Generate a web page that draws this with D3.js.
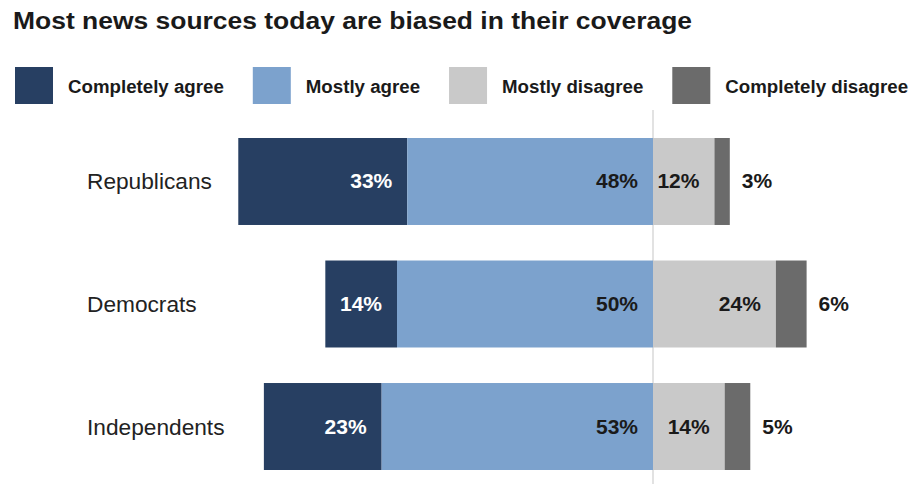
<!DOCTYPE html>
<html>
<head>
<meta charset="utf-8">
<script src="https://cdn.jsdelivr.net/npm/d3@7"></script>
<style>
  html, body { margin: 0; padding: 0; background: #ffffff; }
  svg { display: block; font-family: "Liberation Sans", Arial, Helvetica, sans-serif; }
</style>
</head>
<body>
<svg id="chart" width="920" height="484"></svg>
<script>
const title = "Most news sources today are biased in their coverage";
const categories = ["Republicans", "Democrats", "Independents"];
const seriesNames = ["Completely agree", "Mostly agree", "Mostly disagree", "Completely disagree"];
const completelyAgree = [33, 14, 23];
const mostlyAgree = [48, 50, 53];
const mostlyDisagree = [12, 24, 14];
const completelyDisagree = [3, 6, 5];
const colors = ["#273f62", "#7ca2cd", "#c9c9c9", "#6b6b6b"];
const labelColors = ["#ffffff", "#1a1a1a", "#1a1a1a", "#1a1a1a"];

const svg = d3.select("#chart");
const W = 920, H = 484;

// Title
svg.append("text")
  .attr("x", 13).attr("y", 29)
  .attr("font-size", 23).attr("font-weight", "bold").attr("fill", "#1a1a1a")
  .attr("textLength", 679).attr("lengthAdjust", "spacingAndGlyphs")
  .text(title);

// Legend
let lx = 15;
seriesNames.forEach((name, i) => {
  const g = svg.append("g");
  g.append("rect").attr("x", lx).attr("y", 67).attr("width", 38).attr("height", 37).attr("fill", colors[i]);
  const t = g.append("text").attr("x", lx + 53).attr("y", 93)
    .attr("font-size", 18.7).attr("font-weight", "bold").attr("fill", "#1a1a1a")
    .text(name);
  const w = t.node().getComputedTextLength();
  lx = lx + 53 + w + 29;
});

// Scales
const x = d3.scaleLinear().domain([-100, 100]).range([653 - 512, 653 + 512]);
const y = d3.scaleBand().domain(categories).range([138, 470]).paddingInner(0.29).paddingOuter(0);

// Center line
svg.append("line")
  .attr("x1", x(0)).attr("x2", x(0)).attr("y1", 110).attr("y2", H)
  .attr("stroke", "#d9d9d9").attr("stroke-width", 1.5);

// Build segments
const segs = [];
categories.forEach((c, i) => {
  const a1 = completelyAgree[i], a2 = mostlyAgree[i], d1 = mostlyDisagree[i], d2 = completelyDisagree[i];
  segs.push({cat: c, s: 0, x0: -(a1 + a2), x1: -a2, v: a1});
  segs.push({cat: c, s: 1, x0: -a2, x1: 0, v: a2});
  segs.push({cat: c, s: 2, x0: 0, x1: d1, v: d1});
  segs.push({cat: c, s: 3, x0: d1, x1: d1 + d2, v: d2});
});

svg.append("g").selectAll("rect").data(segs).join("rect")
  .attr("x", d => x(d.x0))
  .attr("y", d => y(d.cat))
  .attr("width", d => x(d.x1) - x(d.x0))
  .attr("height", y.bandwidth())
  .attr("fill", d => colors[d.s]);

// Value labels
svg.append("g").selectAll("text").data(segs).join("text")
  .attr("x", d => d.s === 3 ? x(d.x1) + 12 : x(d.x1) - 15)
  .attr("y", d => y(d.cat) + y.bandwidth() / 2 + 7)
  .attr("text-anchor", d => d.s === 3 ? "start" : "end")
  .attr("font-size", 21).attr("font-weight", "bold")
  .attr("fill", d => labelColors[d.s])
  .text(d => d.v + "%");

// Category labels
svg.append("g").selectAll("text").data(categories).join("text")
  .attr("x", 87)
  .attr("y", d => y(d) + y.bandwidth() / 2 + 8)
  .attr("font-size", 22.7).attr("fill", "#222222")
  .text(d => d);
</script>
</body>
</html>
